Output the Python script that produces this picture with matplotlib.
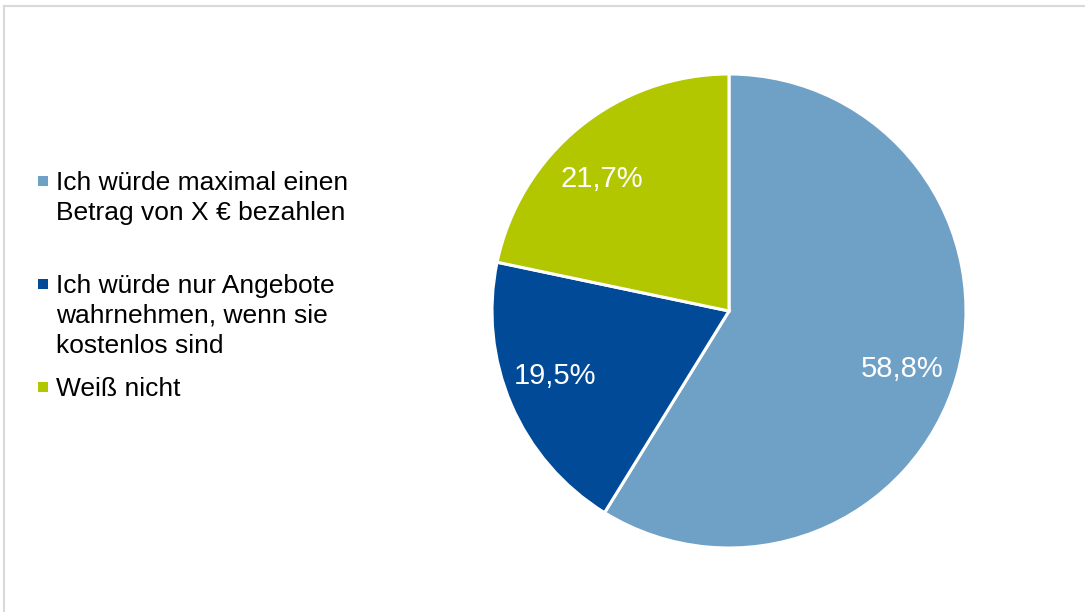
import matplotlib
matplotlib.use("Agg")
import numpy as np
import matplotlib.pyplot as plt
from matplotlib.patches import Rectangle
from matplotlib.lines import Line2D

plt.rcParams['font.family'] = ['Liberation Sans', 'DejaVu Sans']

labels = ["Ich würde maximal einen\nBetrag von X € bezahlen",
          "Ich würde nur Angebote\nwahrnehmen, wenn sie\nkostenlos sind",
          "Weiß nicht"]
values = [58.8, 19.5, 21.7]
colors = ["#6FA0C6", "#004A97", "#B3C700"]

W, H = 1085, 612
fig = plt.figure(figsize=(W / 100, H / 100), dpi=100)

# pie axes: centre (729, 311) px, radius 237 px
cx, cy, r = 729, 311, 237
ax = fig.add_axes([(cx - r) / W, (H - cy - r) / H, 2 * r / W, 2 * r / H])
wedges, _, autotexts = ax.pie(
    values, colors=colors, startangle=90, counterclock=False, radius=1,
    autopct=lambda p: f"{p:.1f}%".replace(".", ","), pctdistance=0.78,
    textprops=dict(color="white", fontsize=21),
    wedgeprops=dict(edgecolor="white", linewidth=2.2))

# Excel-like label placement (angle offset in degrees, radial distance)
label_layout = [(-2.1, 0.767), (-3.3, 0.781), (4.4, 0.779)]
cap_half = 0.044
for w, t, (dang, dist) in zip(wedges, autotexts, label_layout):
    ang = np.deg2rad((w.theta1 + w.theta2) / 2 + dang)
    t.set_position((dist * np.cos(ang), dist * np.sin(ang) - cap_half))
    t.set_va("baseline")

ax.set_xlim(-1.0, 1.0)
ax.set_ylim(-1.0, 1.0)
ax.set_aspect("equal")
ax.axis("off")

# legend (manual, Excel-like spacing)
line_centres = [[181, 211], [284, 314, 344], [387]]
for lab, col, ys in zip(labels, colors, line_centres):
    lines = lab.split("\n")
    my = ys[0]
    fig.patches.append(Rectangle((38 / W, (H - my - 5) / H), 10 / W, 10 / H,
                                 transform=fig.transFigure, facecolor=col,
                                 edgecolor="none"))
    for ln, y in zip(lines, ys):
        fig.text(56 / W, (H - y - 9) / H, ln, fontsize=19, color="#000000",
                 va="baseline", ha="left")

# frame
fc = "#D9D9D9"
fig.lines.append(Line2D([3.5 / W, 1.0], [(H - 5.5) / H] * 2, transform=fig.transFigure,
                        color=fc, linewidth=1.5))
fig.lines.append(Line2D([3.5 / W] * 2, [0, (H - 5.5) / H], transform=fig.transFigure,
                        color=fc, linewidth=1.5))

fig.savefig("out.png", dpi=100, facecolor="white")
